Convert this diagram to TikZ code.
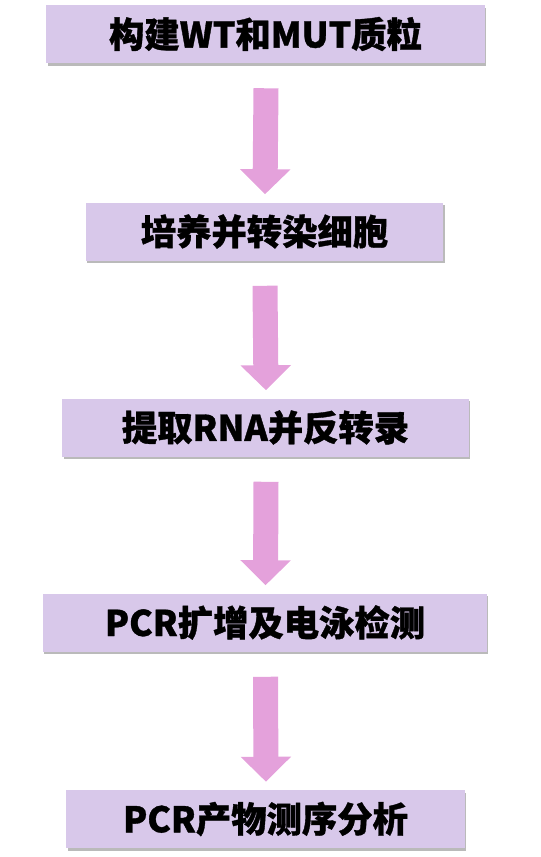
\documentclass[tikz,border=0pt]{standalone}
\usepackage{fontspec}
\newfontfamily\cjk{Noto Sans CJK SC}[BoldFeatures={FakeBold=1}]
\usetikzlibrary{arrows.meta,positioning,calc,shadows}
\definecolor{flowLilac}{HTML}{D8C8EA}
\definecolor{flowPink}{HTML}{E4A1DB}

\begin{document}
\begin{tikzpicture}[x=0.75pt,y=-0.75pt,
    stepbox/.style={fill=flowLilac,minimum height=43.5pt,inner sep=0pt,
                  font=\cjk\bfseries\fontsize{26.5}{30}\selectfont,
                  drop shadow={shadow xshift=1pt,shadow yshift=-2pt,fill=black!45,opacity=0.6}},
    flow/.style={flowPink,line width=18.75pt,
                 -{Triangle[width=36.75pt,length=18.75pt]}}]
  \useasboundingbox (0,0) rectangle (541,857);
  % process steps
  \node[stepbox,minimum width=329pt] (b1) at (265.5,34)  {构建WT和MUT质粒};
  \node[stepbox,minimum width=268pt] (b2) at (264.5,231.5) {培养并转染细胞};
  \node[stepbox,minimum width=305pt] (b3) at (265.5,427.5) {提取RNA并反转录};
  \node[stepbox,minimum width=333pt] (b4) at (265,622.5) {PCR扩增及电泳检测};
  \node[stepbox,minimum width=299pt] (b5) at (265.5,819) {PCR产物测序分析};
  % arrows between steps
  \foreach \a/\b in {b1/b2,b2/b3,b3/b4,b4/b5}
    \draw[flow] ($(\a.south)+(0.5,25)$) -- ($(\b.north)+(0.5,-8)$);
\end{tikzpicture}
\end{document}
